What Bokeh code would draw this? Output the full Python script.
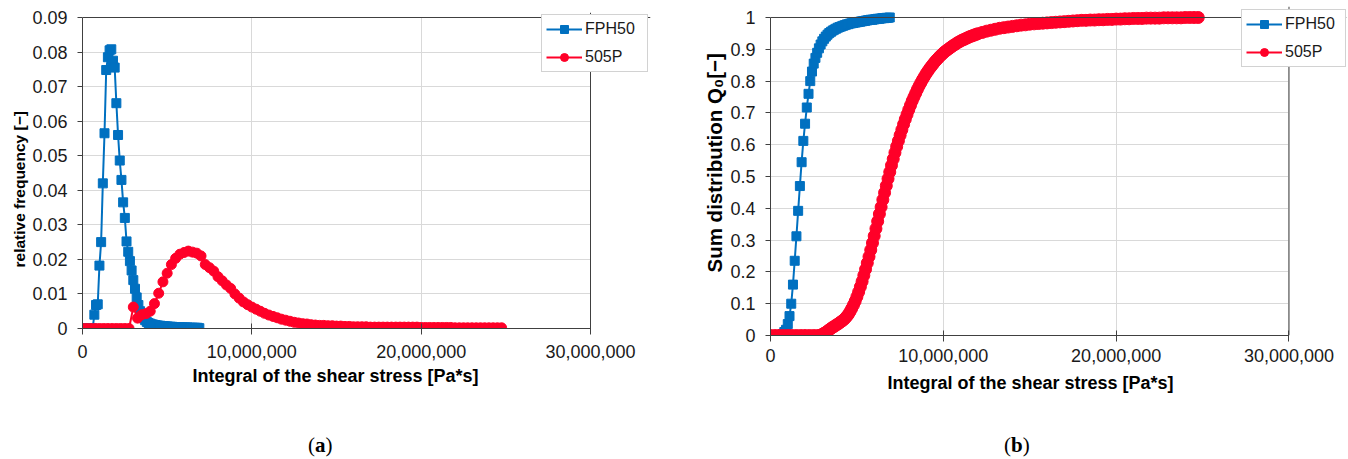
from bokeh.plotting import figure
from bokeh.models import Range1d, FixedTicker, Legend, LegendItem, Span, Title, Div
from bokeh.layouts import row, column
from bokeh.embed import file_html
from bokeh.resources import INLINE

# ---------------- data ----------------
series_names = ["FPH50", "505P"]

fph50_x = [0.0e6, 0.1e6, 0.2e6, 0.3e6, 0.4e6, 0.5e6, 0.6e6, 0.7e6, 0.8e6, 0.9e6,
           1.0e6, 1.1e6, 1.2e6, 1.3e6, 1.4e6, 1.5e6, 1.6e6, 1.7e6, 1.8e6, 1.9e6,
           2.0e6, 2.1e6, 2.2e6, 2.3e6, 2.4e6, 2.5e6, 2.6e6, 2.7e6, 2.8e6, 2.9e6,
           3.0e6, 3.1e6, 3.2e6, 3.3e6, 3.4e6, 3.5e6, 3.6e6, 3.7e6, 3.8e6, 3.9e6,
           4.0e6, 4.1e6, 4.2e6, 4.3e6, 4.4e6, 4.5e6, 4.6e6, 4.7e6, 4.8e6, 4.9e6,
           5.0e6, 5.1e6, 5.2e6, 5.3e6, 5.4e6, 5.5e6, 5.6e6, 5.7e6, 5.8e6, 5.9e6,
           6.0e6, 6.1e6, 6.2e6, 6.3e6, 6.4e6, 6.5e6, 6.6e6, 6.7e6, 6.8e6, 6.9e6]

fph50_freq = [0, 0, 0, 0, 0, 0, 0, 0.0040, 0.0068, 0.0070,
              0.0182, 0.0250, 0.0420, 0.0565, 0.0748, 0.0785, 0.0805, 0.0808, 0.0775, 0.0755,
              0.0652, 0.0560, 0.0486, 0.0430, 0.0365, 0.0320, 0.0252, 0.0222, 0.0195, 0.0168,
              0.0140, 0.0115, 0.0090, 0.0068, 0.0050, 0.0038, 0.0030, 0.0024, 0.0019, 0.0016,
              0.0014, 0.0012, 0.0011, 0.0010, 0.0009, 0.0008, 0.0008, 0.0007, 0.0007, 0.0006,
              0.0006, 0.0005, 0.0005, 0.0005, 0.0004, 0.0004, 0.0004, 0.0004, 0.0003, 0.0003,
              0.0003, 0.0003, 0.0003, 0.0002, 0.0002, 0.0002, 0.0002, 0.0002, 0.0002, 0.0001]

fph50_sum = [0, 0, 0, 0, 0, 0, 0, 0.004, 0.011, 0.018,
             0.036, 0.061, 0.100, 0.160, 0.235, 0.312, 0.392, 0.470, 0.545, 0.612,
             0.666, 0.717, 0.760, 0.800, 0.830, 0.855, 0.873, 0.889, 0.903, 0.915,
             0.925, 0.933, 0.940, 0.946, 0.951, 0.955, 0.959, 0.962, 0.965, 0.968,
             0.970, 0.972, 0.974, 0.976, 0.978, 0.979, 0.981, 0.982, 0.983, 0.984,
             0.985, 0.986, 0.987, 0.988, 0.989, 0.990, 0.991, 0.992, 0.993, 0.993,
             0.994, 0.995, 0.996, 0.996, 0.997, 0.998, 0.998, 0.999, 0.999, 1.000]

p505_x = [0.0e6, 0.25e6, 0.5e6, 0.75e6, 1.0e6, 1.25e6, 1.5e6, 1.75e6, 2.0e6, 2.25e6,
          2.5e6, 2.75e6, 3.0e6, 3.25e6, 3.5e6, 3.75e6, 4.0e6, 4.25e6, 4.5e6, 4.75e6,
          5.0e6, 5.25e6, 5.5e6, 5.75e6, 6.0e6, 6.25e6, 6.5e6, 6.75e6, 7.0e6, 7.25e6,
          7.5e6, 7.75e6, 8.0e6, 8.25e6, 8.5e6, 8.75e6, 9.0e6, 9.25e6, 9.5e6, 9.75e6,
          10.0e6, 10.25e6, 10.5e6, 10.75e6, 11.0e6, 11.25e6, 11.5e6, 11.75e6, 12.0e6, 12.25e6,
          12.5e6, 12.75e6, 13.0e6, 13.25e6, 13.5e6, 13.75e6, 14.0e6, 14.25e6, 14.5e6, 14.75e6,
          15.0e6, 15.25e6, 15.5e6, 15.75e6, 16.0e6, 16.25e6, 16.5e6, 16.75e6, 17.0e6, 17.25e6,
          17.5e6, 17.75e6, 18.0e6, 18.25e6, 18.5e6, 18.75e6, 19.0e6, 19.25e6, 19.5e6, 19.75e6,
          20.0e6, 20.25e6, 20.5e6, 20.75e6, 21.0e6, 21.25e6, 21.5e6, 21.75e6, 22.0e6, 22.25e6,
          22.5e6, 22.75e6, 23.0e6, 23.25e6, 23.5e6, 23.75e6, 24.0e6, 24.25e6, 24.5e6, 24.75e6]

p505_freq = [0, 0, 0, 0, 0, 0, 0, 0, 0, 0,
             0, 0, 0.0062, 0.0030, 0.0040, 0.0043, 0.0050, 0.0072, 0.0102, 0.0135,
             0.0160, 0.0185, 0.0203, 0.0215, 0.0220, 0.0224, 0.0221, 0.0218, 0.0210, 0.0185,
             0.0176, 0.0166, 0.0150, 0.0138, 0.0126, 0.0116, 0.0100, 0.0088, 0.0077, 0.0069,
             0.0062, 0.0056, 0.0050, 0.0044, 0.0039, 0.0035, 0.0031, 0.0027, 0.0024, 0.0021,
             0.0018, 0.0016, 0.0014, 0.0013, 0.0011, 0.0010, 0.0009, 0.0009, 0.0008, 0.0008,
             0.0007, 0.0007, 0.0006, 0.0006, 0.0005, 0.0005, 0.0005, 0.0005, 0.0004, 0.0004,
             0.0004, 0.0004, 0.0004, 0.0004, 0.0004, 0.0004, 0.0004, 0.0004, 0.0004, 0.0004,
             0.0003, 0.0003, 0.0003, 0.0003, 0.0003, 0.0003, 0.0003, 0.0003, 0.0002, 0.0002,
             0.0002, 0.0002, 0.0002, 0.0002, 0.0002, 0.0002, 0.0002, 0.0002, 0.0002, 0.0002]

p505_sum_x = [0.0e6, 0.25e6, 0.5e6, 0.75e6, 1.0e6, 1.25e6, 1.5e6, 1.75e6, 2.0e6, 2.25e6,
              2.5e6, 2.75e6,
              3.0e6, 3.1e6, 3.2e6, 3.3e6, 3.4e6, 3.5e6, 3.6e6, 3.7e6, 3.8e6, 3.9e6,
              4.0e6, 4.1e6, 4.2e6, 4.3e6, 4.4e6, 4.5e6, 4.6e6, 4.7e6, 4.8e6, 4.9e6,
              5.0e6, 5.1e6, 5.2e6, 5.3e6, 5.4e6, 5.5e6, 5.6e6, 5.7e6, 5.8e6, 5.9e6,
              6.0e6, 6.1e6, 6.2e6, 6.3e6, 6.4e6, 6.5e6, 6.6e6, 6.7e6, 6.8e6, 6.9e6,
              7.0e6, 7.1e6, 7.2e6, 7.3e6, 7.4e6, 7.5e6, 7.6e6, 7.7e6, 7.8e6, 7.9e6,
              8.0e6, 8.1e6, 8.2e6, 8.3e6, 8.4e6, 8.5e6, 8.6e6, 8.7e6, 8.8e6, 8.9e6,
              9.0e6, 9.1e6, 9.2e6, 9.3e6, 9.4e6, 9.5e6, 9.6e6, 9.7e6, 9.8e6, 9.9e6,
              10.0e6, 10.1e6, 10.2e6, 10.3e6, 10.4e6, 10.5e6, 10.6e6, 10.7e6, 10.8e6, 10.9e6,
              11.0e6, 11.1e6, 11.2e6, 11.3e6, 11.4e6, 11.5e6, 11.6e6, 11.7e6, 11.8e6, 11.9e6,
              12.0e6, 12.25e6,
              12.5e6, 12.75e6, 13.0e6, 13.25e6, 13.5e6, 13.75e6, 14.0e6, 14.25e6, 14.5e6, 14.75e6,
              15.0e6, 15.25e6, 15.5e6, 15.75e6, 16.0e6, 16.25e6, 16.5e6, 16.75e6, 17.0e6, 17.25e6,
              17.5e6, 17.75e6, 18.0e6, 18.25e6, 18.5e6, 18.75e6, 19.0e6, 19.25e6, 19.5e6, 19.75e6,
              20.0e6, 20.25e6, 20.5e6, 20.75e6, 21.0e6, 21.25e6, 21.5e6, 21.75e6, 22.0e6, 22.25e6,
              22.5e6, 22.75e6, 23.0e6, 23.25e6, 23.5e6, 23.75e6, 24.0e6, 24.25e6, 24.5e6, 24.75e6]

p505_sum = [0, 0, 0, 0, 0, 0, 0, 0, 0, 0,
            0, 0,
            0.004, 0.007, 0.010, 0.014, 0.018, 0.022, 0.026, 0.029, 0.033, 0.036,
            0.040, 0.044, 0.048, 0.053, 0.059, 0.066, 0.075, 0.085, 0.096, 0.108,
            0.122, 0.137, 0.153, 0.170, 0.189, 0.208, 0.228, 0.248, 0.269, 0.291,
            0.313, 0.336, 0.359, 0.382, 0.404, 0.427, 0.449, 0.471, 0.493, 0.514,
            0.535, 0.555, 0.575, 0.594, 0.612, 0.630, 0.647, 0.664, 0.680, 0.695,
            0.710, 0.724, 0.738, 0.750, 0.762, 0.774, 0.785, 0.795, 0.805, 0.814,
            0.823, 0.831, 0.839, 0.846, 0.853, 0.860, 0.866, 0.872, 0.878, 0.883,
            0.888, 0.893, 0.897, 0.901, 0.905, 0.909, 0.913, 0.916, 0.920, 0.923,
            0.926, 0.929, 0.931, 0.934, 0.936, 0.939, 0.941, 0.943, 0.945, 0.947,
            0.949, 0.953,
            0.957, 0.960, 0.963, 0.966, 0.968, 0.970, 0.972, 0.974, 0.976, 0.977,
            0.979, 0.980, 0.981, 0.982, 0.983, 0.984, 0.985, 0.986, 0.987, 0.988,
            0.989, 0.990, 0.991, 0.991, 0.992, 0.992, 0.993, 0.993, 0.994, 0.994,
            0.995, 0.995, 0.996, 0.996, 0.997, 0.997, 0.997, 0.998, 0.998, 0.998,
            0.998, 0.999, 0.999, 0.999, 0.999, 0.999, 1.000, 1.000, 1.000, 1.000]

x_tick_values = [0, 10000000, 20000000, 30000000]
x_tick_labels = ["0", "10,000,000", "20,000,000", "30,000,000"]
ya_tick_values = [0, 0.01, 0.02, 0.03, 0.04, 0.05, 0.06, 0.07, 0.08, 0.09]
ya_tick_labels = ["0", "0.01", "0.02", "0.03", "0.04", "0.05", "0.06", "0.07", "0.08", "0.09"]
yb_tick_values = [0, 0.1, 0.2, 0.3, 0.4, 0.5, 0.6, 0.7, 0.8, 0.9, 1]
yb_tick_labels = ["0", "0.1", "0.2", "0.3", "0.4", "0.5", "0.6", "0.7", "0.8", "0.9", "1"]

x_title = "Integral of the shear stress [Pa*s]"
ya_title = "relative frequency [\u2212]"
yb_title = "Sum distribution Q\u2080[\u2212]"
caption_letters = ["a", "b"]

# ---------------- style ----------------
BLUE = "#0070c0"
RED = "#ff0028"
AXC = "#404040"
FONT = "Liberation Sans"
FIG_H = 431
CAP_H = 28


def make_fig(bl, br, bt, bb, xend, yticks, ylabels, yend, xstand):
    xmax = x_tick_values[-1]
    ymax = yticks[-1]
    p = figure(width=674, height=FIG_H, x_range=Range1d(0, xend), y_range=Range1d(0, yend),
               output_backend="svg", toolbar_location=None,
               min_border_left=bl, min_border_right=br, min_border_top=bt, min_border_bottom=bb)
    p.background_fill_color = "white"
    p.border_fill_color = "white"
    p.outline_line_color = None
    p.xgrid.grid_line_color = "#d9d9d9"
    p.ygrid.grid_line_color = "#d9d9d9"
    p.xgrid.cross_bounds = (0, ymax)
    p.ygrid.cross_bounds = (0, xmax)
    p.xaxis.ticker = FixedTicker(ticks=x_tick_values)
    p.xaxis.major_label_overrides = dict(zip(x_tick_values, x_tick_labels))
    p.xaxis.bounds = (0, xmax)
    p.yaxis.ticker = FixedTicker(ticks=yticks)
    p.yaxis.major_label_overrides = dict(zip(yticks, ylabels))
    p.yaxis.bounds = (0, ymax)
    for ax in (p.xaxis[0], p.yaxis[0]):
        ax.axis_line_color = AXC
        ax.major_tick_line_color = AXC
        ax.minor_tick_line_color = None
        ax.major_label_text_font = FONT
        ax.major_label_text_font_size = "18px"
        ax.major_label_text_color = "#1a1a1a"
    p.xaxis.major_tick_in = 5
    p.xaxis.major_tick_out = 6
    p.yaxis.major_tick_in = 0
    p.yaxis.major_tick_out = 5
    p.yaxis.major_label_standoff = 10
    p.xaxis.major_label_standoff = xstand
    # plot-area border at the top and at the right end of the x axis
    p.add_layout(Span(location=ymax, dimension="width", line_color=AXC, line_width=1))
    p.add_layout(Span(location=xmax, dimension="height", line_color=AXC, line_width=1))
    return p


def add_series(p, xa, ya, xb, yb, rsize, bsize):
    l1 = p.line(xa, ya, line_color=BLUE, line_width=2)
    s1 = p.scatter(xa, ya, marker="square", size=bsize, fill_color=BLUE, line_color=BLUE)
    l2 = p.line(xb, yb, line_color=RED, line_width=2)
    s2 = p.scatter(xb, yb, marker="circle", size=rsize, fill_color=RED, line_color=RED)
    return [l1, s1], [l2, s2]


def add_legend(p, r1, r2, loc, label_width):
    lg = Legend(items=[LegendItem(label=series_names[0], renderers=r1),
                       LegendItem(label=series_names[1], renderers=r2)],
                location=loc, orientation="vertical")
    lg.label_text_font = FONT
    lg.label_text_font_size = "16px"
    lg.label_text_color = "#1a1a1a"
    lg.glyph_width = 36
    lg.glyph_height = 20
    lg.label_standoff = 3
    lg.label_width = label_width
    lg.padding = 4
    lg.spacing = 8
    lg.margin = 0
    lg.border_line_color = "#a6a6a6"
    lg.background_fill_color = "white"
    lg.background_fill_alpha = 1
    p.add_layout(lg)


def add_title(p, side, text, size, offset, standoff):
    p.add_layout(Title(text=text, align="left", offset=offset, standoff=standoff,
                       text_font=FONT, text_font_style="bold", text_font_size=size,
                       text_color="black"), side)


def caption(letter, indent):
    return Div(text="(<b>%s</b>)" % letter, width=674, height=CAP_H, margin=0,
               styles={"font-family": "Liberation Serif", "font-size": "21px",
                       "line-height": "%dpx" % CAP_H, "text-indent": "%dpx" % indent,
                       "color": "black", "background-color": "white"})


# ---------------- panel (a) ----------------
pa = make_fig(82, 24, 12, FIG_H - 328, 33.543e6, ya_tick_values, ya_tick_labels, 0.091447, 10)
ra1, ra2 = add_series(pa, fph50_x, fph50_freq, p505_x, p505_freq, 10, 9)
add_legend(pa, ra1, ra2, (459, 256), 58)
add_title(pa, "left", ya_title, "15.5px", 61, 4)
add_title(pa, "below", x_title, "18px", 110, 6)

# ---------------- panel (b) ----------------
pb = make_fig(96, 2, 6, FIG_H - 335, 33.327e6, yb_tick_values, yb_tick_labels, 1.034591, 7)
rb1, rb2 = add_series(pb, fph50_x, fph50_sum, p505_sum_x, p505_sum, 12, 9)
add_legend(pb, rb1, rb2, (471, 268), 56)
add_title(pb, "left", yb_title, "20.5px", 63, 4)
add_title(pb, "below", x_title, "18px", 117, 12)

layout = row(column(pa, caption(caption_letters[0], 308)),
             column(pb, caption(caption_letters[1], 330)))
open("out.html", "w").write(file_html(layout, INLINE))
